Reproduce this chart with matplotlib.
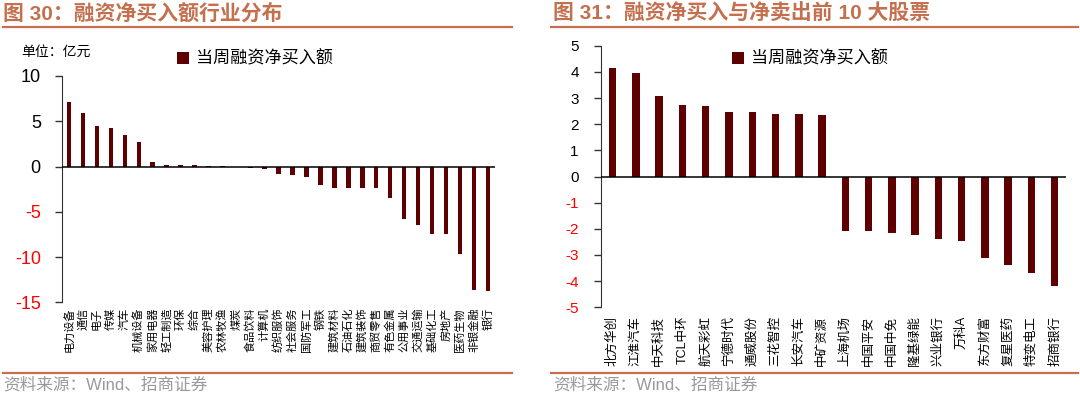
import matplotlib
matplotlib.use("Agg")
import matplotlib.pyplot as plt
from matplotlib.lines import Line2D
import numpy as np

plt.rcParams["font.family"] = ["Liberation Sans", "Noto Sans CJK SC"]
plt.rcParams["axes.unicode_minus"] = False

# Left chart: weekly net margin buying by industry (100m yuan)
industries = ["电力设备", "通信", "电子", "传媒", "汽车", "机械设备", "家用电器", "轻工制造",
              "环保", "综合", "美容护理", "农林牧渔", "煤炭", "食品饮料", "计算机", "纺织服饰",
              "社会服务", "国防军工", "钢铁", "建筑材料", "石油石化", "建筑装饰", "商贸零售",
              "有色金属", "公用事业", "交通运输", "基础化工", "房地产", "医药生物", "非银金融", "银行"]
industry_values = [7.1, 5.9, 4.5, 4.2, 3.5, 2.7, 0.5, 0.2, 0.2, 0.15, 0.03, 0.02, -0.05, -0.2,
                   -0.3, -0.8, -0.95, -1.15, -2.0, -2.4, -2.4, -2.4, -2.4, -3.5, -5.8, -6.5,
                   -7.5, -7.5, -9.7, -13.6, -13.7]

# Right chart: top 10 net buys and net sells (100m yuan)
stocks = ["北方华创", "江淮汽车", "中天科技", "TCL中环", "航天彩虹", "宁德时代", "通威股份",
          "三花智控", "长安汽车", "中矿资源", "上海机场", "中国平安", "中国中免", "隆基绿能",
          "兴业银行", "万科A", "东方财富", "复星医药", "特变电工", "招商银行"]
stock_values = [4.15, 3.95, 3.07, 2.72, 2.70, 2.47, 2.47, 2.40, 2.40, 2.37,
                -2.09, -2.09, -2.17, -2.24, -2.37, -2.45, -3.12, -3.38, -3.69, -4.17]

left_ticks = [10, 5, 0, -5, -10, -15]
right_ticks = [5, 4, 3, 2, 1, 0, -1, -2, -3, -4, -5]

bar_color = "#5e0000"
title_color = "#c4704e"
legend_label = "当周融资净买入额"

fig = plt.figure(figsize=(10.8, 3.97), dpi=100)


def style_axes(ax, ticks, pad):
    ax.spines["top"].set_visible(False)
    ax.spines["right"].set_visible(False)
    ax.spines["bottom"].set_visible(False)
    ax.spines["left"].set_color("#333333")
    ax.axhline(0, color="black", lw=1.1, zorder=3)
    ax.set_yticks(ticks)
    ax.tick_params(axis="y", direction="out", length=5, width=1, color="#333333", pad=pad)
    ax.tick_params(axis="x", length=0)
    for lab, t in zip(ax.get_yticklabels(), ticks):
        lab.set_color("red" if t < 0 else "black")


# ---- left chart ----
ax1 = fig.add_axes([0.0571, 0.2385, 0.4015, 0.5701])
x1 = np.arange(len(industries))
ax1.bar(x1, industry_values, width=0.3, color=bar_color, label=legend_label, zorder=2)
ax1.set_xlim(-0.5, len(industries) - 0.5)
ax1.set_ylim(-15, 10)
ax1.set_xticks(x1)
ax1.set_xticklabels(industries, rotation=90, fontsize=8, va="top", ha="center")
ax1.tick_params(axis="x", pad=4)
style_axes(ax1, left_ticks, 10)
for lab in ax1.get_yticklabels():
    lab.set_fontsize(13)
ax1.legend(loc="upper left", bbox_to_anchor=(0.164, 0.874), bbox_transform=fig.transFigure,
           frameon=False, fontsize=12.3, handlelength=0.7, handleheight=0.7,
           handletextpad=0.4, borderpad=0, borderaxespad=0)
fig.text(0.020, 0.869, "单位：亿元", fontsize=10, va="center", ha="left")

# ---- right chart ----
ax2 = fig.add_axes([0.5565, 0.2259, 0.4309, 0.659])
x2 = np.arange(len(stocks))
ax2.bar(x2, stock_values, width=0.32, color=bar_color, label=legend_label, zorder=2)
ax2.set_xlim(-0.5, len(stocks) - 0.5)
ax2.set_ylim(-5, 5)
ax2.set_xticks(x2)
ax2.set_xticklabels(stocks, rotation=90, fontsize=9, va="top", ha="center")
ax2.tick_params(axis="x", pad=6)
style_axes(ax2, right_ticks, 11)
for lab in ax2.get_yticklabels():
    lab.set_fontsize(11)
ax2.legend(loc="upper left", bbox_to_anchor=(0.678, 0.874), bbox_transform=fig.transFigure,
           frameon=False, fontsize=12.3, handlelength=0.7, handleheight=0.7,
           handletextpad=0.4, borderpad=0, borderaxespad=0)

# ---- titles, rules and source notes ----
fig.text(0.003, 0.965, "图 30：融资净买入额行业分布", fontsize=15, fontweight="bold",
         color=title_color, va="center", ha="left")
fig.text(0.512, 0.965, "图 31：融资净买入与净卖出前 10 大股票", fontsize=15, fontweight="bold",
         color=title_color, va="center", ha="left")
for xa, xb in [(0.003, 0.474), (0.510, 0.998)]:
    fig.add_artist(Line2D([xa, xb], [0.932, 0.932], color=title_color, lw=1.6))
    fig.add_artist(Line2D([xa, xb], [0.061, 0.061], color=title_color, lw=1.6))
fig.text(0.003, 0.030, "资料来源：Wind、招商证券", fontsize=12, color="#999999",
         va="center", ha="left")
fig.text(0.512, 0.030, "资料来源：Wind、招商证券", fontsize=12, color="#999999",
         va="center", ha="left")

fig.savefig("out.png", dpi=100)
